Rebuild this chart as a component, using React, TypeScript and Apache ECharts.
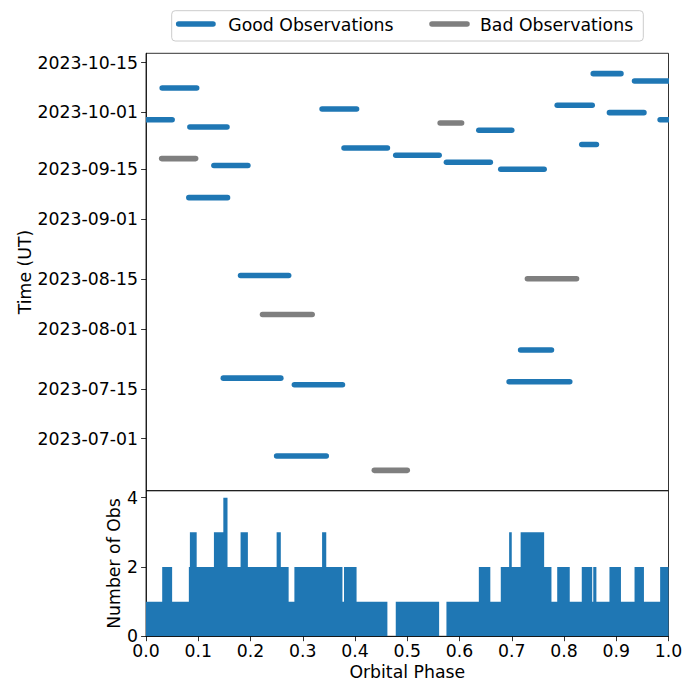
import { useEffect, useRef } from 'react';
import * as echarts from 'echarts';

const BLUE = '#1f77b4';
const GRAY = '#7f7f7f';
const FONT = 'DejaVu Sans';
const FS = 17.3;

// [phase start, phase end, observation time (UT)]
const goodSegments: [number, number, string][] = [
  [0.031, 0.097, '2023-10-07T21:00'],
  [0.984, 1.050, '2023-09-28T22:30'],
  [0.084, 0.155, '2023-09-26T21:00'],
  [0.130, 0.195, '2023-09-16T00:00'],
  [0.082, 0.156, '2023-09-06T23:00'],
  [0.337, 0.403, '2023-10-01T23:00'],
  [0.379, 0.462, '2023-09-20T23:00'],
  [0.478, 0.561, '2023-09-18T22:00'],
  [0.856, 0.909, '2023-10-11T22:00'],
  [0.935, 1.000, '2023-10-09T20:00'],
  [0.787, 0.854, '2023-10-03T00:00'],
  [0.887, 0.953, '2023-09-30T22:00'],
  [0.637, 0.700, '2023-09-25T23:00'],
  [0.834, 0.862, '2023-09-21T22:00'],
  [0.575, 0.659, '2023-09-16T23:00'],
  [0.679, 0.762, '2023-09-14T23:00'],
  [0.181, 0.273, '2023-08-16T00:00'],
  [0.148, 0.258, '2023-07-18T02:00'],
  [0.284, 0.376, '2023-07-16T05:00'],
  [0.250, 0.345, '2023-06-26T03:00'],
  [0.717, 0.776, '2023-07-26T00:00'],
  [0.695, 0.811, '2023-07-17T01:00'],
];

const badSegments: [number, number, string][] = [
  [0.030, 0.095, '2023-09-17T23:00'],
  [0.563, 0.604, '2023-09-28T00:00'],
  [0.223, 0.318, '2023-08-05T00:00'],
  [0.437, 0.500, '2023-06-22T02:00'],
  [0.730, 0.824, '2023-08-15T02:00'],
];

// Histogram of good observations per phase: step edges and counts
const histEdges = [
  0.000, 0.031, 0.050, 0.082, 0.084, 0.097, 0.130, 0.148, 0.156, 0.181,
  0.195, 0.250, 0.258, 0.273, 0.284, 0.337, 0.345, 0.376, 0.379, 0.403,
  0.462, 0.478, 0.561, 0.575, 0.637, 0.659, 0.679, 0.695, 0.700, 0.717,
  0.762, 0.776, 0.787, 0.811, 0.834, 0.854, 0.856, 0.862, 0.887, 0.909,
  0.935, 0.953, 0.984, 1.000,
];
const histCounts = [
  1, 2, 1, 2, 3, 2, 3, 4, 2, 3,
  2, 3, 2, 1, 2, 3, 2, 1, 2, 1,
  0, 1, 0, 1, 2, 1, 2, 3, 2, 3,
  2, 1, 2, 1, 2, 1, 2, 1, 2, 1,
  2, 1, 2,
];

const dateTicks = [
  '2023-07-01', '2023-07-15', '2023-08-01', '2023-08-15',
  '2023-09-01', '2023-09-15', '2023-10-01', '2023-10-15',
];
const phaseTicks = [0, 0.1, 0.2, 0.3, 0.4, 0.5, 0.6, 0.7, 0.8, 0.9, 1.0];
const countTicks = [0, 2, 4];

const timeMin = '2023-06-16T08:30';
const timeMax = '2023-10-17T15:30';

const ts = (s: string) => Date.parse((s.length === 10 ? s + 'T00:00' : s) + ':00Z');

const segRenderer = (color: string) => (_params: any, api: any) => {
  const p0 = api.value(0);
  const p1 = api.value(1);
  const t = api.value(2);
  const children: any[] = [];
  for (const off of [0, -1]) {
    if (off === -1 && p1 <= 1) continue;
    const a = api.coord([p0 + off, t]);
    const b = api.coord([p1 + off, t]);
    children.push({
      type: 'line',
      shape: { x1: a[0], y1: a[1], x2: b[0], y2: b[1] },
      style: { stroke: color, lineWidth: 5.56, lineCap: 'round', fill: 'none' },
    });
  }
  return { type: 'group', children };
};

const labelStyle = { fontSize: FS, fontFamily: FONT, color: '#000' };
const tickStyle = { color: '#000', width: 0.8 };

export default function App() {
  const ref = useRef<HTMLDivElement>(null);
  useEffect(() => {
    const chart = echarts.init(ref.current!, null, { renderer: 'svg' });
    const dateTickValues = dateTicks.map(ts);
    const option: any = {
      animation: false,
      backgroundColor: '#fff',
      textStyle: { fontFamily: FONT },
      grid: [
        { left: 146, top: 53.3, width: 522.5, height: 437.4, show: true, borderColor: '#000', borderWidth: 0.8, backgroundColor: 'transparent' },
        { left: 146, top: 490.7, width: 522.5, height: 145.6, show: true, borderColor: '#000', borderWidth: 0.8, backgroundColor: 'transparent' },
      ],
      xAxis: [
        {
          gridIndex: 0, type: 'value', min: 0, max: 1,
          axisLabel: { show: false }, axisTick: { show: false }, axisLine: { show: false }, splitLine: { show: false },
        },
        {
          gridIndex: 1, type: 'value', min: 0, max: 1,
          axisLabel: { ...labelStyle, customValues: phaseTicks, margin: 6, formatter: (v: number) => v.toFixed(1) },
          axisTick: { customValues: phaseTicks, length: 4.9, lineStyle: tickStyle },
          axisLine: { show: true, onZero: false, lineStyle: tickStyle },
          splitLine: { show: false },
        },
      ],
      yAxis: [
        {
          gridIndex: 0, type: 'value', min: ts(timeMin), max: ts(timeMax),
          axisLabel: {
            ...labelStyle, customValues: dateTickValues, margin: 8,
            formatter: (v: number) => new Date(v).toISOString().slice(0, 10),
          },
          axisTick: { customValues: dateTickValues, length: 4.9, lineStyle: tickStyle },
          axisLine: { show: true, onZero: false, lineStyle: tickStyle },
          splitLine: { show: false },
        },
        {
          gridIndex: 1, type: 'value', min: 0, max: 4.2,
          axisLabel: { ...labelStyle, customValues: countTicks, margin: 8 },
          axisTick: { customValues: countTicks, length: 4.9, lineStyle: tickStyle },
          axisLine: { show: true, onZero: false, lineStyle: tickStyle },
          splitLine: { show: false },
        },
      ],
      series: [
        {
          type: 'line', name: 'Number of Obs', xAxisIndex: 1, yAxisIndex: 1,
          step: 'end', symbol: 'none', silent: true,
          data: histEdges.map((e, i) => [e, histCounts[Math.min(i, histCounts.length - 1)]]),
          lineStyle: { width: 0, color: BLUE },
          areaStyle: { color: BLUE, opacity: 1 },
          z: 1,
        },
        {
          type: 'custom', name: 'Bad Observations', xAxisIndex: 0, yAxisIndex: 0, clip: true,
          itemStyle: { color: GRAY },
          encode: { x: [0, 1], y: 2 },
          data: badSegments.map((s) => [s[0], s[1], ts(s[2])]),
          renderItem: segRenderer(GRAY),
          z: 3,
        },
        {
          type: 'custom', name: 'Good Observations', xAxisIndex: 0, yAxisIndex: 0, clip: true,
          itemStyle: { color: BLUE },
          encode: { x: [0, 1], y: 2 },
          data: goodSegments.map((s) => [s[0], s[1], ts(s[2])]),
          renderItem: segRenderer(BLUE),
          z: 4,
        },
      ],
      graphic: [
        {
          type: 'rect', z: 100,
          shape: { x: 171.7, y: 10.7, width: 471.6, height: 30.3, r: 3.5 },
          style: { fill: '#fff', stroke: '#cccccc', lineWidth: 1 },
        },
        {
          type: 'line', z: 101,
          shape: { x1: 178.7, y1: 24, x2: 213, y2: 24 },
          style: { stroke: BLUE, lineWidth: 5.56, lineCap: 'round' },
        },
        {
          type: 'text', z: 101, x: 228.3, y: 24.5,
          style: { text: 'Good Observations', fontSize: FS, fontFamily: FONT, fill: '#000', align: 'left', verticalAlign: 'middle', textAlign: 'left', textVerticalAlign: 'middle' },
        },
        {
          type: 'line', z: 101,
          shape: { x1: 432, y1: 24, x2: 467, y2: 24 },
          style: { stroke: GRAY, lineWidth: 5.56, lineCap: 'round' },
        },
        {
          type: 'text', z: 101, x: 480, y: 24.5,
          style: { text: 'Bad Observations', fontSize: FS, fontFamily: FONT, fill: '#000', align: 'left', verticalAlign: 'middle', textAlign: 'left', textVerticalAlign: 'middle' },
        },
        {
          type: 'text', x: 407.25, y: 671.5,
          style: { text: 'Orbital Phase', fontSize: FS, fontFamily: FONT, fill: '#000', align: 'center', verticalAlign: 'middle', textAlign: 'center', textVerticalAlign: 'middle' },
        },
        {
          type: 'text', x: 25, y: 272, rotation: Math.PI / 2,
          style: { text: 'Time (UT)', fontSize: FS, fontFamily: FONT, fill: '#000', align: 'center', verticalAlign: 'middle', textAlign: 'center', textVerticalAlign: 'middle' },
        },
        {
          type: 'text', x: 114, y: 563.5, rotation: Math.PI / 2,
          style: { text: 'Number of Obs', fontSize: FS, fontFamily: FONT, fill: '#000', align: 'center', verticalAlign: 'middle', textAlign: 'center', textVerticalAlign: 'middle' },
        },
      ],
    };
    chart.setOption(option);
    return () => chart.dispose();
  }, []);
  return (
    <div
      ref={ref}
      style={{ position: 'fixed', left: 0, top: 0, width: 691, height: 680, background: '#fff' }}
    />
  );
}
